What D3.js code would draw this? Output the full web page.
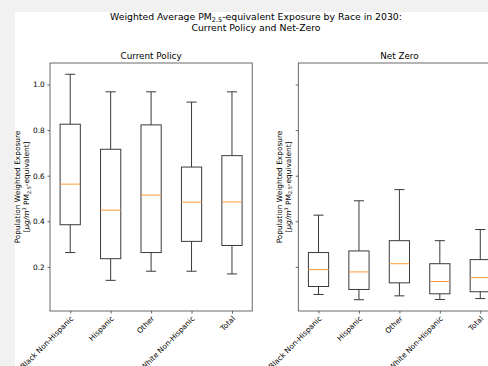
<!DOCTYPE html>
<html>
<head>
<meta charset="utf-8">
<script src="https://cdn.jsdelivr.net/npm/d3@7"></script>
<style>
  html, body { margin: 0; padding: 0; background: #f1f1f1; }
  svg { display: block; }
  text { font-family: "DejaVu Sans", sans-serif; fill: #000; }
</style>
</head>
<body>
<svg id="chart" width="488" height="366"></svg>
<script>
// ---- data ----
const categories = ["Black Non-Hispanic", "Hispanic", "Other", "White Non-Hispanic", "Total"];
const panelTitles = ["Current Policy", "Net Zero"];
const yTicks = [0.2, 0.4, 0.6, 0.8, 1.0];

// Current Policy box statistics
const cpLow  = [0.263, 0.141, 0.181, 0.181, 0.169];
const cpQ1   = [0.385, 0.236, 0.263, 0.312, 0.294];
const cpMed  = [0.563, 0.449, 0.515, 0.484, 0.485];
const cpQ3   = [0.826, 0.716, 0.823, 0.638, 0.688];
const cpHigh = [1.045, 0.968, 0.968, 0.923, 0.968];

// Net Zero box statistics
const nzLow  = [0.079, 0.056, 0.073, 0.057, 0.061];
const nzQ1   = [0.114, 0.101, 0.130, 0.082, 0.091];
const nzMed  = [0.188, 0.178, 0.214, 0.136, 0.153];
const nzQ3   = [0.263, 0.270, 0.315, 0.214, 0.232];
const nzHigh = [0.427, 0.490, 0.539, 0.315, 0.364];

// ---- layout ----
const svg = d3.select("#chart");
svg.append("rect").attr("x", 15).attr("y", 12).attr("width", 488).attr("height", 366).attr("fill", "#fff");

// suptitle
const t = svg.append("text").attr("text-anchor", "middle").attr("font-size", 9.3);
const l1 = t.append("tspan").attr("x", 256).attr("y", 20);
l1.append("tspan").text("Weighted Average PM");
l1.append("tspan").attr("font-size", 6.5).attr("dy", 2).text("2.5");
l1.append("tspan").attr("dy", -2).text("-equivalent Exposure by Race in 2030:");
t.append("tspan").attr("x", 256).attr("y", 31).text("Current Policy and Net-Zero");

const panelLeft = [50, 298.3];
const panelW = 202.2;
const yTop = 63, yBottom = 311;

const allData = [
  {low: cpLow, q1: cpQ1, med: cpMed, q3: cpQ3, high: cpHigh},
  {low: nzLow, q1: nzQ1, med: nzMed, q3: nzQ3, high: nzHigh}
];

// shared y domain (matplotlib 5% margins)
const allVals = cpLow.concat(cpHigh, nzLow, nzHigh);
const mn = d3.min(allVals), mx = d3.max(allVals), pad = (mx - mn) * 0.05;
const y = d3.scaleLinear().domain([mn - pad, mx + pad]).range([yBottom, yTop]);

const lineCol = "#3a3a3a";

allData.forEach((d, p) => {
  const x0 = panelLeft[p];
  const x = d3.scaleLinear().domain([0.5, 5.5]).range([x0, x0 + panelW]);
  const g = svg.append("g");

  // subplot title
  g.append("text").attr("x", x0 + panelW / 2).attr("y", yTop - 4)
    .attr("text-anchor", "middle").attr("font-size", 8.8).text(panelTitles[p]);

  // y axis ticks
  const yAxis = d3.axisLeft(y).tickValues(yTicks).tickSize(2.6).tickPadding(2.6)
    .tickFormat(p === 0 ? d3.format(".1f") : () => "");
  const ya = g.append("g").attr("transform", `translate(${x0},0)`).call(yAxis);
  ya.select(".domain").remove();
  ya.selectAll("line").attr("stroke", "#444").attr("stroke-width", 0.8);
  ya.selectAll("text").attr("font-size", 7.4).attr("font-family", "DejaVu Sans");

  // x axis ticks
  const xAxis = d3.axisBottom(x).tickValues([1, 2, 3, 4, 5]).tickSize(2.6).tickPadding(2.6)
    .tickFormat(i => categories[i - 1]);
  const xa = g.append("g").attr("transform", `translate(0,${yBottom})`).call(xAxis);
  xa.select(".domain").remove();
  xa.selectAll("line").attr("stroke", "#444").attr("stroke-width", 0.8);
  xa.selectAll("text").attr("font-size", 7.4).attr("font-family", "DejaVu Sans")
    .attr("text-anchor", "end").attr("dy", "0.6em")
    .attr("transform", "translate(0,5) rotate(-45)").attr("y", 0).attr("x", 0);

  // boxes
  const bw = x(1.25) - x(1);  // half box width (0.25 units)
  const cw = x(1.125) - x(1); // half cap width
  categories.forEach((c, i) => {
    const cx = x(i + 1);
    const bg = g.append("g").attr("stroke", lineCol).attr("stroke-width", 1).attr("fill", "none");
    bg.append("line").attr("x1", cx).attr("x2", cx).attr("y1", y(d.high[i])).attr("y2", y(d.q3[i]));
    bg.append("line").attr("x1", cx).attr("x2", cx).attr("y1", y(d.q1[i])).attr("y2", y(d.low[i]));
    bg.append("line").attr("x1", cx - cw).attr("x2", cx + cw).attr("y1", y(d.high[i])).attr("y2", y(d.high[i]));
    bg.append("line").attr("x1", cx - cw).attr("x2", cx + cw).attr("y1", y(d.low[i])).attr("y2", y(d.low[i]));
    bg.append("rect").attr("x", cx - bw).attr("width", 2 * bw)
      .attr("y", y(d.q3[i])).attr("height", y(d.q1[i]) - y(d.q3[i]));
    g.append("line").attr("x1", cx - bw).attr("x2", cx + bw).attr("y1", y(d.med[i])).attr("y2", y(d.med[i]))
      .attr("stroke", "#ff9a3c").attr("stroke-width", 1);
  });

  // frame
  g.append("rect").attr("x", x0).attr("y", yTop).attr("width", panelW).attr("height", yBottom - yTop)
    .attr("fill", "none").attr("stroke", "#444").attr("stroke-width", 0.8);

  // y label
  const lx = p === 0 ? x0 - 30 : x0 - 16.5;
  const lab = g.append("text").attr("transform", `translate(${lx},${(yTop + yBottom) / 2}) rotate(-90)`)
    .attr("text-anchor", "middle").attr("font-size", 7.4);
  lab.append("tspan").attr("x", 0).attr("y", 0).text("Population Weighted Exposure");
  const s2 = lab.append("tspan").attr("x", 0).attr("y", 9);
  s2.append("tspan").text("[");
  s2.append("tspan").attr("font-style", "italic").text("μg/m");
  s2.append("tspan").attr("font-size", 5).attr("dy", -3).attr("font-style", "italic").text("3");
  s2.append("tspan").attr("dy", 3).text(" PM");
  s2.append("tspan").attr("font-size", 5).attr("dy", 1.5).text("2.5");
  s2.append("tspan").attr("dy", -1.5).text("-equivalent]");
});
</script>
</body>
</html>
